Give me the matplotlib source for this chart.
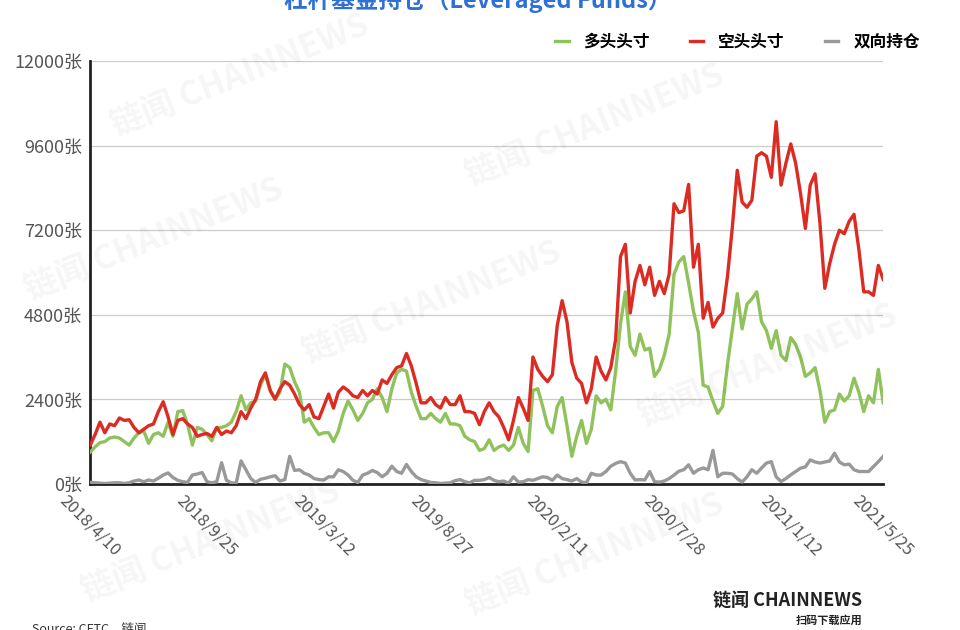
import pandas as pd
import matplotlib.pyplot as plt

plt.rcParams["font.family"] = ["Noto Sans CJK SC", "DejaVu Sans"]

# weekly CFTC data, 2018/4/10 - 2021/5/25
start_date = "2018-04-10"

long_pos = [
    900, 1050, 1170, 1200, 1300, 1330, 1300, 1200, 1100, 1300,
    1450, 1500, 1150, 1400, 1450, 1350, 1750, 1350, 2050, 2080,
    1700, 1100, 1600, 1550, 1400, 1220, 1600, 1600, 1650, 1750,
    2050, 2500, 2100, 2300, 2350, 2800, 3100, 2650, 2400, 2600,
    3400, 3300, 2900, 2600, 1750, 1850, 1600, 1400, 1450, 1450,
    1200, 1500, 2000, 2350, 2100, 1800, 2000, 2300, 2400, 2700,
    2450, 2050, 2700, 3150, 3250, 3200, 2600, 2200, 1850, 1850,
    2000, 1850, 1750, 2000, 1700, 1700, 1650, 1350, 1250, 1200,
    950, 1000, 1250, 950, 1050, 1100, 950, 1100, 1600, 1150,
    920, 2650, 2700, 2200, 1650, 1450, 2200, 2450, 1650, 780,
    1350, 1800, 1150, 1550, 2500, 2300, 2400, 2100, 3200, 4550,
    5450, 3900, 3650, 4250, 3800, 3850, 3050, 3250, 3650, 4250,
    5950, 6300, 6450, 5700, 4900, 4300, 2800, 2750, 2350, 2000,
    2200, 3400, 4400, 5400, 4400, 5100, 5250, 5450, 4600, 4350,
    3850, 4350, 3650, 3500, 4150, 3950, 3600, 3050, 3150, 3300,
    2650, 1750, 2050, 2100, 2550, 2350, 2500, 3000, 2600, 2050,
    2500, 2300, 3250, 2300,
]

short_pos = [
    1100, 1400, 1750, 1450, 1700, 1650, 1870, 1800, 1820, 1600,
    1450, 1550, 1650, 1700, 2050, 2330, 1900, 1400, 1800, 1850,
    1700, 1600, 1350, 1400, 1430, 1350, 1600, 1400, 1500, 1450,
    1650, 2050, 1850, 2150, 2400, 2900, 3150, 2650, 2400, 2700,
    2900, 2800, 2550, 2250, 2100, 2250, 1900, 1850, 2200, 2550,
    2150, 2600, 2750, 2650, 2500, 2450, 2650, 2500, 2650, 2550,
    2950, 2850, 3100, 3300, 3350, 3700, 3350, 2850, 2300, 2300,
    2450, 2250, 2150, 2450, 2250, 2250, 2500, 2050, 2050, 2000,
    1680, 2050, 2300, 2050, 1900, 1600, 1250, 1800, 2450, 2150,
    1800, 3600, 3250, 3050, 2900, 3100, 4500, 5200, 4600, 3450,
    3000, 2850, 2300, 2700, 3600, 3200, 2950, 3300, 4100, 6450,
    6800, 4850, 5750, 6200, 5650, 6150, 5350, 5750, 5400, 5950,
    7950, 7700, 7750, 8500, 6150, 6800, 4700, 5150, 4450, 4700,
    4850, 5900, 7300, 8900, 8000, 7850, 8050, 9300, 9400, 9300,
    8700, 10280, 8480, 9100, 9650, 9100, 8250, 7250, 8480, 8800,
    7400, 5550, 6250, 6800, 7200, 7100, 7450, 7650, 6650, 5450,
    5450, 5350, 6200, 5800,
]

spread_pos = [
    40, 30, 20, 10, 20, 30, 30, 10, 30, 80,
    110, 60, 110, 80, 160, 250, 310, 180, 100, 60,
    40, 250, 280, 320, 60, 30, 60, 600, 100, 30,
    20, 650, 400, 150, 40, 130, 160, 200, 230, 80,
    120, 780, 380, 400, 300, 250, 150, 120, 110, 200,
    200, 400, 350, 250, 100, 40, 250, 300, 380, 320,
    200, 300, 500, 350, 300, 550, 350, 200, 120, 80,
    40, 30, 10, 20, 30, 90, 120, 60, 30, 100,
    100, 120, 180, 100, 60, 80, 20, 200, 50, 60,
    120, 100, 150, 200, 180, 100, 250, 150, 120, 80,
    150, 50, 30, 300, 250, 250, 350, 500, 580, 630,
    590, 300, 110, 120, 110, 350, 60, 50, 80, 150,
    250, 360, 400, 540, 300, 400, 450, 400, 950, 200,
    300, 300, 280, 150, 50, 200, 400, 300, 450, 590,
    630, 200, 66, 150, 255, 350, 444, 480, 680, 620,
    590, 620, 650, 870, 620, 540, 560, 400, 350, 350,
    350, 490, 630, 780,
]

tick_idx = [0, 24, 48, 72, 96, 120, 144, 163]
y_ticks = [0, 2400, 4800, 7200, 9600, 12000]

dates = pd.date_range(start_date, periods=len(long_pos), freq="7D")

fig = plt.figure(figsize=(9.6, 6.3), dpi=100)
ax = fig.add_axes([0.094, 0.232, 0.826, 0.671])

# faint watermarks
for wx, wy in [(0.25, 0.88), (0.62, 0.80), (0.16, 0.62), (0.45, 0.52),
               (0.80, 0.42), (0.22, 0.14), (0.62, 0.12)]:
    fig.text(wx, wy, "链闻 CHAINNEWS", fontsize=24, fontweight="bold", color="#000000",
             alpha=0.04, rotation=22, ha="center", va="center")

ax.plot(dates, long_pos, color="#8fc25b", lw=2.4, label="多头头寸", zorder=3)
ax.plot(dates, short_pos, color="#dc2b22", lw=2.4, label="空头头寸", zorder=3)
ax.plot(dates, spread_pos, color="#999999", lw=2.4, label="双向持仓", zorder=3)

ax.set_xlim(dates[0], dates[-1])
ax.set_ylim(0, 12000)
ax.set_yticks(y_ticks)
ax.set_yticklabels([f"{v}张" for v in y_ticks], fontsize=13, color="#555555")
ax.set_xticks([dates[i] for i in tick_idx])
ax.set_xticklabels([f"{dates[i].year}/{dates[i].month}/{dates[i].day}" for i in tick_idx],
                   rotation=-45, ha="center", va="top", fontsize=12, color="#555555")
ax.tick_params(axis="both", length=0, pad=6)
ax.grid(axis="y", color="#cccccc", lw=0.9)
ax.set_axisbelow(True)
for s in ["top", "right"]:
    ax.spines[s].set_visible(False)
ax.spines["left"].set_linewidth(2)
ax.spines["bottom"].set_linewidth(2)
ax.spines["left"].set_color("#222222")
ax.spines["bottom"].set_color("#222222")

ax.legend(loc="lower right", bbox_to_anchor=(1.065, 0.99), ncol=3, frameon=False,
          handlelength=0.8, handletextpad=0.9, columnspacing=2.4,
          prop={"size": 12, "weight": "bold"})

fig.text(0.498, 1.0, "杠杆基金持仓（Leveraged Funds）", fontsize=17, fontweight="bold",
         color="#2f6fd8", ha="center", va="center")
fig.text(0.033, 0.0, "Source: CFTC，链闻", fontsize=9, color="#333333", ha="left", va="center")
fig.text(0.898, 0.048, "链闻 CHAINNEWS", fontsize=13, fontweight="bold", color="#222222",
         ha="right", va="center")
fig.text(0.898, 0.016, "扫码下载应用", fontsize=8, fontweight="bold", color="#222222",
         ha="right", va="center")

fig.savefig("out.png")
